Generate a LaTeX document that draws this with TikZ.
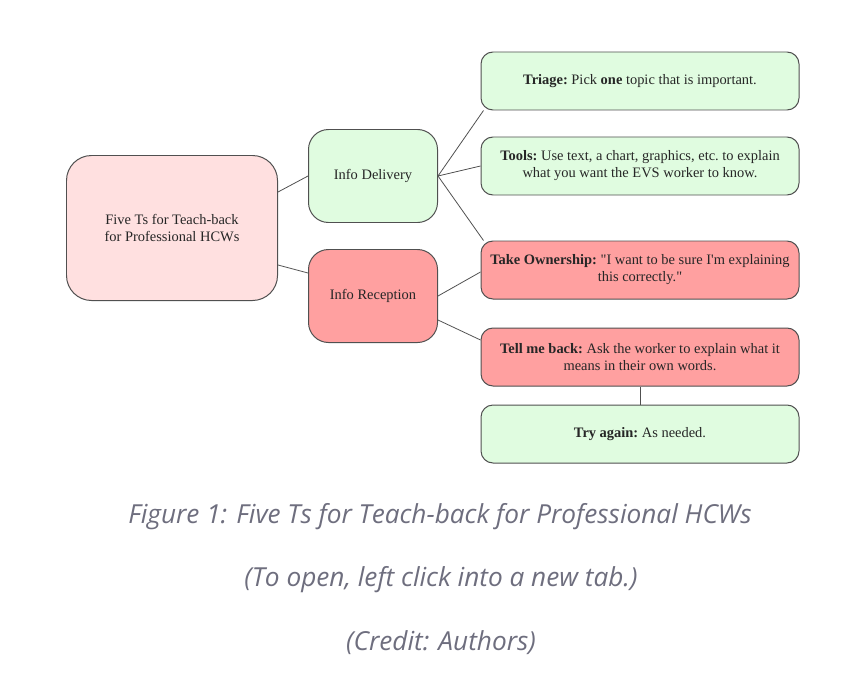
\documentclass[tikz,border=0pt]{standalone}
\usepackage{fontspec}
\setmainfont{Liberation Serif}[Ligatures=TeXOff]
\newfontfamily\capfont{Open Sans}
\usetikzlibrary{positioning}
\definecolor{boxgreen}{HTML}{E0FCE0}
\definecolor{boxpink}{HTML}{FFE0E0}
\definecolor{boxred}{HTML}{FFA0A0}
\definecolor{edgegray}{HTML}{505050}
\definecolor{capgray}{HTML}{6E6E7E}
\tikzset{%
  tbox/.style={draw=edgegray, line width=1pt, rounded corners=12bp, align=center,
    font=\frenchspacing\fontsize{14.5}{17}\selectfont, text=black!85, inner sep=0pt},
  leafbox/.style={tbox, minimum width=318bp, minimum height=58bp},
  midbox/.style={tbox, rounded corners=20bp, minimum width=129bp, minimum height=93bp},
  link/.style={draw=edgegray, line width=0.8pt},
  captext/.style={font=\capfont\itshape\fontsize{26.3}{30}\selectfont, text=capgray}
}

\begin{document}
\begin{tikzpicture}[x=1bp,y=-1bp]
\useasboundingbox (0,0) rectangle (862,697);

% boxes
\node[tbox, rounded corners=25bp, minimum width=211bp, minimum height=145bp, fill=boxpink] (root) at (172,228) {Five Ts for Teach-back\\for Professional HCWs};
\node[midbox, fill=boxgreen] (deliv) at (373,176) {Info Delivery};
\node[midbox, fill=boxred] (recep) at (373,296) {Info Reception};
\node[leafbox, fill=boxgreen] (triage) at (640,81) {\textbf{Triage:} Pick \textbf{one} topic that is important.};
\node[leafbox, fill=boxgreen] (tools) at (640,166) {\textbf{Tools:} Use text, a chart, graphics, etc. to explain\\what you want the EVS worker to know.};
\node[leafbox, fill=boxred] (owner) at (640,270) {\textbf{Take Ownership:} "I want to be sure I'm explaining\\this correctly."};
\node[leafbox, fill=boxred] (tellback) at (640,357) {\textbf{Tell me back:} Ask the worker to explain what it\\means in their own words.};
\node[leafbox, fill=boxgreen] (retry) at (640,434) {\textbf{Try again:} As needed.};

% links
\draw[link] ([yshift=36bp]root.east) -- (deliv.west);
\draw[link] ([yshift=-37bp]root.east) -- ([yshift=23bp]recep.west);
\draw[link] (deliv.east) -- ([xshift=3bp]triage.south west);
\draw[link] (deliv.east) -- (tools.west);
\draw[link] (deliv.east) -- ([xshift=3bp]owner.north west);
\draw[link] (recep.east) -- ([yshift=-2bp]owner.west);
\draw[link] ([yshift=-24bp]recep.east) -- ([yshift=17bp]tellback.west);
\draw[link] (tellback.south) -- (retry.north);

% caption
\node[captext] (fig) at (440,517) {Figure 1: Five Ts for Teach-back for Professional HCWs};
\node[captext] (open) at (441,580) {(To open, left click into a new tab.)};
\node[captext] (credit) at (441,643) {(Credit: Authors)};
\end{tikzpicture}
\end{document}
